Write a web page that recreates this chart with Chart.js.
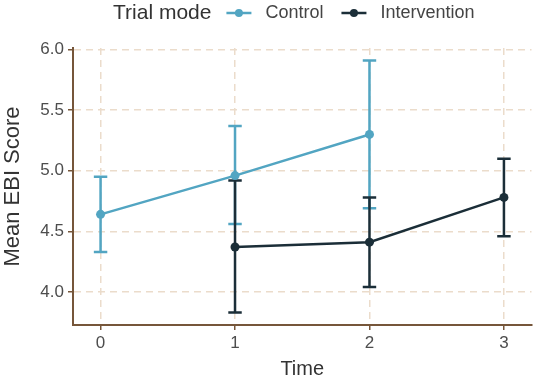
<!DOCTYPE html>
<html>
<head>
<meta charset="utf-8">
<script src="https://cdn.jsdelivr.net/npm/chart.js@4.4.1/dist/chart.umd.min.js"></script>
<style>
  html, body { margin: 0; padding: 0; background: #fff; }
  #wrap { width: 536px; height: 384px; }
</style>
</head>
<body>
<div id="wrap"><canvas id="ebiChart" width="536" height="384"></canvas></div>
<script>
// data
var times = [0, 1, 2, 3];
var xTicks = [0, 1, 2, 3];
var yTicks = [4.0, 4.5, 5.0, 5.5, 6.0];

var controlMean  = [4.64, 4.96, 5.30, null];
var controlLow   = [4.33, 4.56, 4.69, null];
var controlHigh  = [4.95, 5.37, 5.91, null];

var interMean = [null, 4.37, 4.41, 4.78];
var interLow  = [null, 3.83, 4.04, 4.46];
var interHigh = [null, 4.92, 4.78, 5.10];

var controlColor = '#52a5c2';
var interColor = '#1b2e38';
var gridColor = '#ebdccb';
var axisColor = '#76563a';
var fontFam = '"Liberation Sans", Arial, sans-serif';

function toPoints(vals) {
    var pts = [];
    for (var i = 0; i < times.length; i++) {
        if (vals[i] !== null) pts.push({ x: times[i], y: vals[i] });
    }
    return pts;
}

// error bars drawn through the chart scales
var errorBars = {
    id: 'errorBars',
    beforeDatasetsDraw: function(chart) {
        var ctx = chart.ctx;
        var xs = chart.scales.x, ys = chart.scales.y;
        chart.data.datasets.forEach(function(ds) {
            ctx.save();
            ctx.strokeStyle = ds.borderColor;
            ctx.lineWidth = 2.5;
            for (var i = 0; i < times.length; i++) {
                if (ds.low[i] === null) continue;
                var x = xs.getPixelForValue(times[i]);
                var xl = xs.getPixelForValue(times[i] - 0.05);
                var xr = xs.getPixelForValue(times[i] + 0.05);
                var yl = ys.getPixelForValue(ds.low[i]);
                var yh = ys.getPixelForValue(ds.high[i]);
                ctx.beginPath();
                ctx.moveTo(x, yl); ctx.lineTo(x, yh);
                ctx.moveTo(xl, yl); ctx.lineTo(xr, yl);
                ctx.moveTo(xl, yh); ctx.lineTo(xr, yh);
                ctx.stroke();
            }
            ctx.restore();
        });
    }
};

// ggplot-like legend on one row: title then line+point keys
var topLegend = {
    id: 'topLegend',
    afterDraw: function(chart) {
        var ctx = chart.ctx;
        var y = 13;
        var x = 113;
        ctx.save();
        ctx.textBaseline = 'middle';
        ctx.fillStyle = '#333';
        ctx.font = '21px ' + fontFam;
        ctx.fillText('Trial mode', x, y);
        x += ctx.measureText('Trial mode').width + 15;
        ctx.font = '18px ' + fontFam;
        chart.data.datasets.forEach(function(ds) {
            ctx.strokeStyle = ds.borderColor;
            ctx.fillStyle = ds.borderColor;
            ctx.lineWidth = 2.5;
            ctx.beginPath();
            ctx.moveTo(x, y); ctx.lineTo(x + 25, y);
            ctx.stroke();
            ctx.beginPath();
            ctx.arc(x + 12.5, y, 4, 0, Math.PI * 2);
            ctx.fill();
            x += 39;
            ctx.fillStyle = '#444';
            ctx.fillText(ds.label, x, y);
            x += ctx.measureText(ds.label).width + 18;
        });
        ctx.restore();
    }
};

var ctx = document.getElementById('ebiChart').getContext('2d');
var chart = new Chart(ctx, {
    type: 'line',
    data: {
        datasets: [{
            label: 'Control',
            data: toPoints(controlMean),
            low: controlLow,
            high: controlHigh,
            borderColor: controlColor,
            backgroundColor: controlColor,
            borderWidth: 2.5,
            pointRadius: 4.5,
            pointHoverRadius: 4.5,
            pointBorderWidth: 0,
            fill: false
        }, {
            label: 'Intervention',
            data: toPoints(interMean),
            low: interLow,
            high: interHigh,
            borderColor: interColor,
            backgroundColor: interColor,
            borderWidth: 2.5,
            pointRadius: 4.5,
            pointHoverRadius: 4.5,
            pointBorderWidth: 0,
            fill: false
        }]
    },
    options: {
        responsive: false,
        animation: false,
        layout: { padding: { top: 48, right: 3, left: 0, bottom: 0 } },
        plugins: {
            legend: { display: false },
            tooltip: { enabled: false }
        },
        scales: {
            x: {
                type: 'linear',
                min: -0.205,
                max: 3.205,
                afterBuildTicks: function(scale) {
                    scale.ticks = xTicks.map(function(v) { return { value: v }; });
                },
                afterFit: function(scale) { scale.height = 59; },
                grid: {
                    color: gridColor,
                    lineWidth: 1.5,
                    drawTicks: true,
                    tickLength: 5,
                    tickColor: axisColor,
                    tickWidth: 1.5,
                    tickBorderDash: []
                },
                border: { display: true, color: axisColor, width: 2, dash: [7, 5] },
                ticks: {
                    padding: 3,
                    color: '#4d4d4d',
                    font: { family: fontFam, size: 17 },
                    callback: function(v) { return String(v); }
                },
                title: {
                    display: true,
                    text: 'Time',
                    color: '#333',
                    font: { family: fontFam, size: 20 },
                    padding: { top: 0, bottom: 3 }
                }
            },
            y: {
                min: 3.726,
                max: 6.014,
                afterBuildTicks: function(scale) {
                    scale.ticks = yTicks.map(function(v) { return { value: v }; });
                },
                afterFit: function(scale) { scale.width = 73; },
                grid: {
                    color: gridColor,
                    lineWidth: 1.5,
                    drawTicks: true,
                    tickLength: 5,
                    tickColor: axisColor,
                    tickWidth: 1.5,
                    tickBorderDash: []
                },
                border: { display: true, color: axisColor, width: 2, dash: [7, 5] },
                ticks: {
                    padding: 4,
                    color: '#4d4d4d',
                    font: { family: fontFam, size: 17 },
                    callback: function(v) { return v.toFixed(1); }
                },
                title: {
                    display: true,
                    text: 'Mean EBI Score',
                    color: '#333',
                    font: { family: fontFam, size: 22 },
                    padding: { top: 0, bottom: 0 }
                }
            }
        }
    },
    plugins: [errorBars, topLegend]
});
</script>
</body>
</html>
